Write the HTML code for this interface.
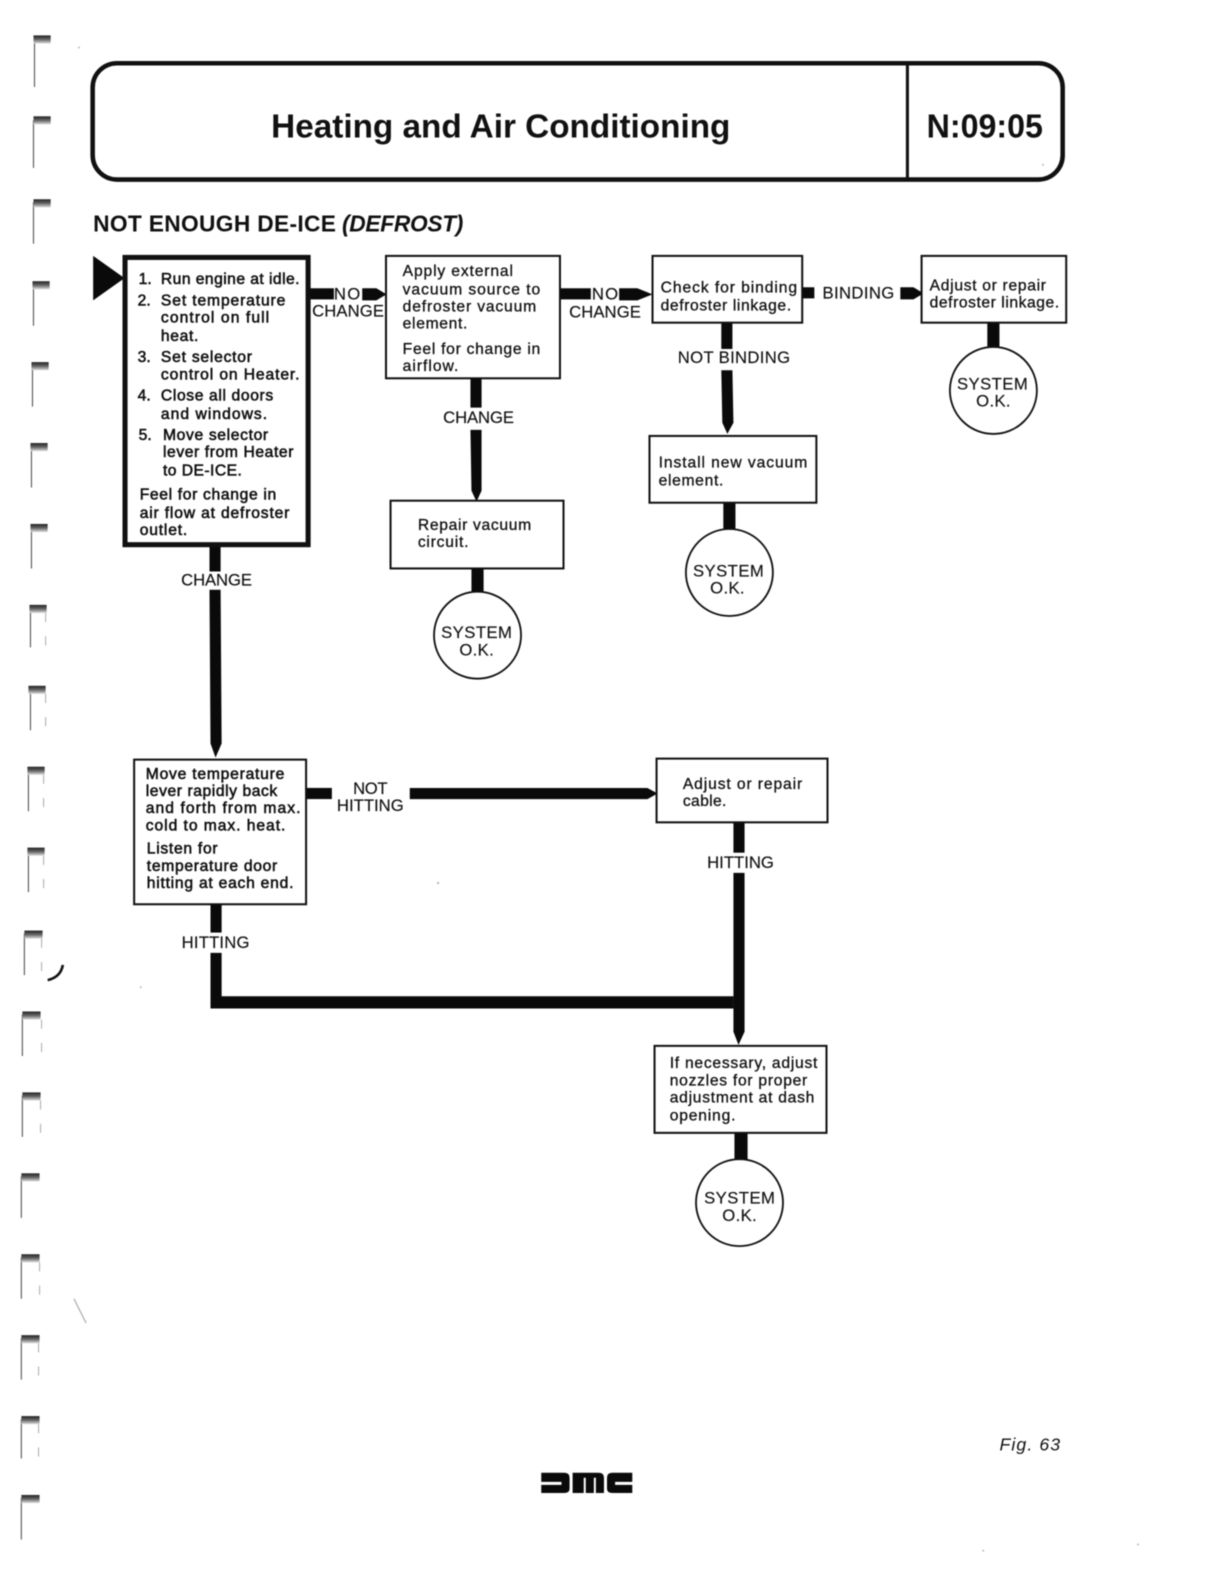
<!DOCTYPE html>
<html><head><meta charset="utf-8"><title>Heating and Air Conditioning N:09:05</title>
<style>
html,body{margin:0;padding:0;background:#fff;width:1214px;height:1586px;overflow:hidden}
svg{display:block;filter:blur(.5px)}
text{font-family:"Liberation Sans",sans-serif;fill:#111}
.b{font-size:15.5px;stroke:#111;stroke-width:.3px}
.bb{font-size:15.5px;stroke:#111;stroke-width:.55px}
.l{font-size:16.5px;text-anchor:middle;stroke:#111;stroke-width:.15px}
.box{fill:#fff;stroke:#111;stroke-width:2}
.bar{fill:#0a0a0a}
.c{fill:#fff;stroke:#111;stroke-width:1.8}
.m{fill:none;stroke:#555;stroke-width:1.1}
.f{fill:none;stroke:#aaa;stroke-width:1;stroke-dasharray:9 14}
</style></head><body>
<svg xmlns="http://www.w3.org/2000/svg" width="1214" height="1586" viewBox="0 0 1200 1568">
<defs><linearGradient id="g" x1="0" y1="0" x2="0" y2="1"><stop offset="0" stop-color="#222"/><stop offset=".5" stop-color="#666"/><stop offset="1" stop-color="#ddd"/></linearGradient></defs>
<!-- binder marks -->
<g>
<path class="m" d="M34 39V86M33 119V166M33 200V241M33 281V322M32 361V402M31 441V482M31 521V562M30 601V640M30 681V722M28 761V802M28 841V882M24 923V964M22 1003V1044M22 1083V1124M21 1163V1204M21 1243V1284M21 1323V1364M21 1403V1442M21 1481V1522"/>
<path class="f" d="M45 606V640M45 686V722M43 766V802M43 846V882M41 928V964M41 1008V1044M40 1088V1124M39 1248V1284M38 1328V1364M38 1408V1442"/>
<rect style="fill:url(#g)" x="33" y="35" width="17" height="8"/>
<rect style="fill:url(#g)" x="33" y="115" width="17" height="8"/>
<rect style="fill:url(#g)" x="33" y="197" width="17" height="8"/>
<rect style="fill:url(#g)" x="32" y="278" width="17" height="8"/>
<rect style="fill:url(#g)" x="31" y="358" width="17" height="8"/>
<rect style="fill:url(#g)" x="30" y="438" width="17" height="8"/>
<rect style="fill:url(#g)" x="30" y="518" width="17" height="8"/>
<rect style="fill:url(#g)" x="29" y="598" width="17" height="8"/>
<rect style="fill:url(#g)" x="28" y="678" width="17" height="8"/>
<rect style="fill:url(#g)" x="27" y="758" width="17" height="8"/>
<rect style="fill:url(#g)" x="27" y="838" width="17" height="8"/>
<rect style="fill:url(#g)" x="24" y="920" width="18" height="8"/>
<rect style="fill:url(#g)" x="22" y="1000" width="18" height="8"/>
<rect style="fill:url(#g)" x="22" y="1080" width="18" height="8"/>
<rect style="fill:url(#g)" x="21" y="1160" width="18" height="8"/>
<rect style="fill:url(#g)" x="21" y="1240" width="18" height="8"/>
<rect style="fill:url(#g)" x="21" y="1320" width="18" height="8"/>
<rect style="fill:url(#g)" x="21" y="1400" width="18" height="8"/>
<rect style="fill:url(#g)" x="21" y="1478" width="18" height="8"/>
<path d="M62 954Q60 966 47 969" fill="none" stroke="#111" stroke-width="2.6"/>
<path d="M73 1284L85 1308" fill="none" stroke="#aaa" stroke-width="1.2"/>
</g>
<!-- header -->
<rect x="91.500" y="62.500" width="959" height="115" rx="24" fill="#fff" stroke="#111" stroke-width="4.500"/>
<path d="M897 62V177" stroke="#111" stroke-width="3"/>
<text x="268" y="136" font-size="33" font-weight="700" textLength="454" lengthAdjust="spacingAndGlyphs">Heating and Air Conditioning</text>
<text x="916" y="136" font-size="33" font-weight="700" textLength="115" lengthAdjust="spacingAndGlyphs">N:09:05</text>
<text x="92" y="229" font-size="22.500" font-weight="700" textLength="240">NOT ENOUGH DE-ICE</text>
<text x="338" y="229" font-size="22.500" font-weight="700" font-style="italic" textLength="120">(DEFROST)</text>

<!-- connectors -->
<g class="bar">
<path d="M92 253L123 275L92 297Z"/>
<rect x="305" y="285" width="25" height="11"/><path d="M358 285H372L382 291L372 297H358Z"/>
<rect x="553" y="285" width="31" height="11"/><path d="M612 285H630L645 291L630 297H612Z"/>
<rect x="793" y="284" width="12" height="11"/><path d="M890 284H903L913 290L903 296H890Z"/>
<rect x="976" y="319" width="12" height="28"/>
<rect x="713" y="319" width="11" height="26"/><path d="M713 366H724L725 418L719 429L714 418Z"/>
<rect x="715" y="497" width="12" height="28"/>
<rect x="465" y="374" width="11" height="29"/><path d="M465 425H476L476 485L471 496L466 485Z"/>
<rect x="466" y="562" width="12" height="27"/>
<path d="M207 538H218V565H207ZM207 583H218L219 735L213 749L208 735Z"/>
<rect x="302" y="779" width="26" height="11"/>
<path d="M405 779H640L650 784.500L640 790H405Z"/>
<rect x="725" y="813" width="11" height="30"/>
<path d="M725 863H736V1020L730 1033L725 1020Z"/>
<rect x="726" y="1120" width="13" height="29"/>
<rect x="208" y="894" width="11" height="28"/>
<path d="M208 942H219V985H725V997H208Z"/>
</g>

<!-- boxes -->
<rect x="123.500" y="254.500" width="181" height="284" fill="#fff" stroke="#111" stroke-width="5"/>
<rect class="box" x="381.500" y="253" width="172" height="121"/>
<rect class="box" x="645" y="253" width="148" height="66"/>
<rect class="box" x="911" y="253" width="143" height="66"/>
<rect class="box" x="642" y="431" width="165" height="66"/>
<rect class="box" x="386" y="495" width="171" height="67"/>
<rect class="box" x="132.500" y="751" width="170" height="143"/>
<rect class="box" x="649" y="750" width="169" height="63"/>
<rect class="box" x="647" y="1034" width="170" height="86"/>
<circle class="c" cx="982" cy="386" r="43"/>
<circle class="c" cx="721" cy="566" r="43"/>
<circle class="c" cx="472" cy="628" r="43"/>
<circle class="c" cx="731" cy="1189" r="43"/>

<!-- box 1 -->
<text class="bb" x="137" y="281">1.</text><text class="bb" x="159" y="281" textLength="137">Run engine at idle.</text>
<text class="bb" x="136" y="302">2.</text><text class="bb" x="159" y="302" textLength="123">Set temperature</text>
<text class="bb" x="159" y="319" textLength="107">control on full</text>
<text class="bb" x="159" y="337" textLength="37">heat.</text>
<text class="bb" x="136" y="358">3.</text><text class="bb" x="159" y="358" textLength="90">Set selector</text>
<text class="bb" x="159" y="375" textLength="137">control on Heater.</text>
<text class="bb" x="136" y="396">4.</text><text class="bb" x="159" y="396" textLength="111">Close all doors</text>
<text class="bb" x="159" y="414" textLength="105">and windows.</text>
<text class="bb" x="137" y="435">5.</text><text class="bb" x="161" y="435" textLength="104">Move selector</text>
<text class="bb" x="161" y="452" textLength="129">lever from Heater</text>
<text class="bb" x="161" y="470" textLength="78">to DE-ICE.</text>
<text class="bb" x="138" y="494" textLength="135">Feel for change in</text>
<text class="bb" x="138" y="512" textLength="148">air flow at defroster</text>
<text class="bb" x="138" y="529" textLength="47">outlet.</text>
<!-- box 2 -->
<text class="b" x="398" y="273" textLength="109">Apply external</text>
<text class="b" x="398" y="291" textLength="136">vacuum source to</text>
<text class="b" x="398" y="308" textLength="132">defroster vacuum</text>
<text class="b" x="398" y="325" textLength="64">element.</text>
<text class="b" x="398" y="350" textLength="136">Feel for change in</text>
<text class="b" x="398" y="367" textLength="55">airflow.</text>
<!-- box 3, 4 -->
<text class="b" x="653" y="289" textLength="135">Check for binding</text>
<text class="b" x="653" y="307" textLength="129">defroster linkage.</text>
<text class="b" x="919" y="287" textLength="115">Adjust or repair</text>
<text class="b" x="919" y="304" textLength="128">defroster linkage.</text>
<text class="b" x="651" y="462" textLength="147">Install new vacuum</text>
<text class="b" x="651" y="480" textLength="64">element.</text>
<text class="b" x="413" y="524" textLength="112">Repair vacuum</text>
<text class="b" x="413" y="541" textLength="50">circuit.</text>
<!-- lower boxes -->
<text class="bb" x="144" y="770" textLength="137">Move temperature</text>
<text class="bb" x="144" y="787" textLength="130">lever rapidly back</text>
<text class="bb" x="144" y="804" textLength="153">and forth from max.</text>
<text class="bb" x="144" y="821" textLength="138">cold to max. heat.</text>
<text class="bb" x="145" y="844" textLength="70">Listen for</text>
<text class="bb" x="145" y="861" textLength="129">temperature door</text>
<text class="bb" x="145" y="878" textLength="145">hitting at each end.</text>
<text class="b" x="675" y="780" textLength="118">Adjust or repair</text>
<text class="b" x="675" y="797" textLength="43">cable.</text>
<text class="b" x="662" y="1056" textLength="146">If necessary, adjust</text>
<text class="b" x="662" y="1073" textLength="136">nozzles for proper</text>
<text class="b" x="662" y="1090" textLength="143">adjustment at dash</text>
<text class="b" x="662" y="1108" textLength="65">opening.</text>

<!-- labels -->
<text class="l" x="343" y="296" textLength="26">NO</text>
<text class="l" x="344" y="313" textLength="71">CHANGE</text>
<text class="l" x="598" y="296" textLength="26">NO</text>
<text class="l" x="598" y="314" textLength="71">CHANGE</text>
<text class="l" x="848.500" y="295" textLength="71">BINDING</text>
<text class="l" x="725.500" y="359" textLength="111">NOT BINDING</text>
<text class="l" x="473" y="418" textLength="70">CHANGE</text>
<text class="l" x="214" y="579" textLength="70">CHANGE</text>
<text class="l" x="366" y="785" textLength="34">NOT</text>
<text class="l" x="366" y="802" textLength="66">HITTING</text>
<text class="l" x="732" y="858" textLength="66">HITTING</text>
<text class="l" x="213" y="937" textLength="67">HITTING</text>
<text class="l" x="981" y="385" textLength="70">SYSTEM</text><text class="l" x="982" y="402" textLength="34">O.K.</text>
<text class="l" x="720" y="570" textLength="70">SYSTEM</text><text class="l" x="719" y="587" textLength="34">O.K.</text>
<text class="l" x="471" y="631" textLength="70">SYSTEM</text><text class="l" x="471" y="648" textLength="34">O.K.</text>
<text class="l" x="731" y="1190" textLength="70">SYSTEM</text><text class="l" x="731" y="1207" textLength="34">O.K.</text>
<text x="988" y="1434" font-size="17.500" font-style="italic" textLength="60">Fig. 63</text>

<!-- DMC logo -->
<path fill="#0a0a0a" d="M535 1456H558Q563 1456 563 1461V1472Q563 1476 558 1476H535V1468H555V1465H535ZM566 1456H592Q597 1456 597 1461V1476H589V1461H587V1476H579V1461H577V1476H566ZM605 1456H625V1465H608V1468H625V1476H605Q600 1476 600 1472V1461Q600 1456 605 1456Z"/>
<!-- specks -->
<g fill="#bbb"><circle cx="78" cy="47" r="1"/><circle cx="433" cy="873" r="1.200"/><circle cx="139" cy="976" r="1"/><circle cx="1125" cy="1527" r="1"/><circle cx="972" cy="1533" r="1"/><circle cx="1031" cy="163" r="1"/></g>
</svg>
</body></html>
